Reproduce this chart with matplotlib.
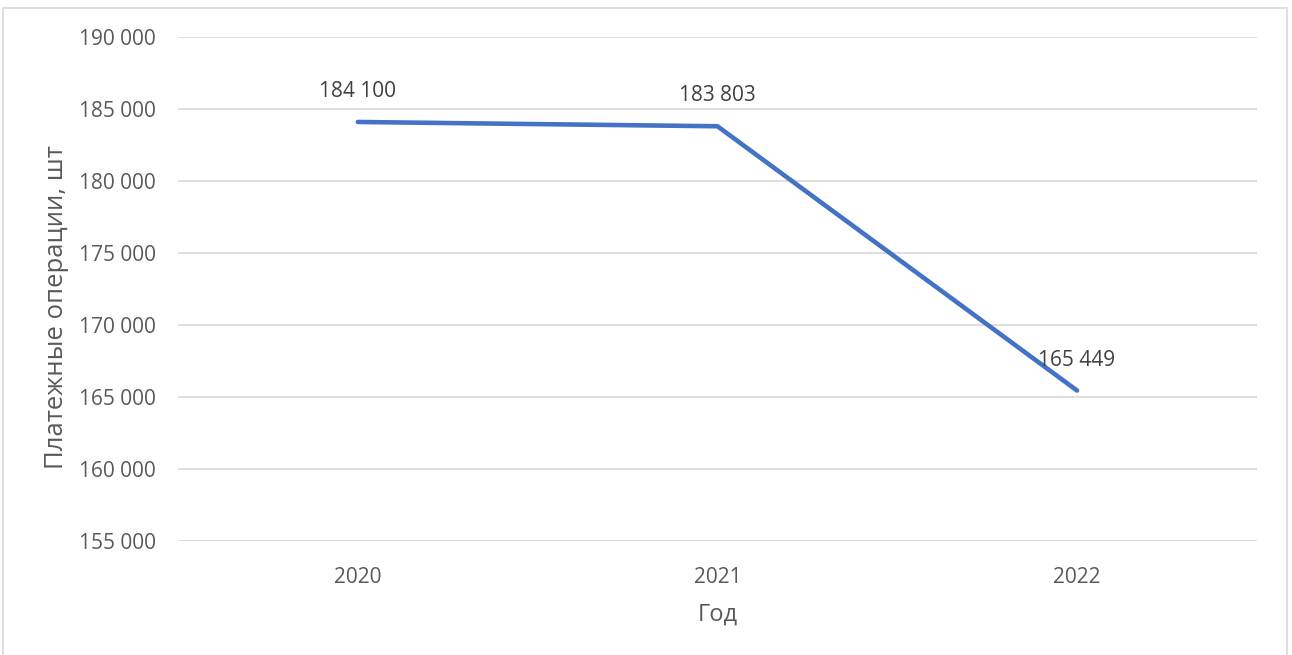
import matplotlib.pyplot as plt
from matplotlib.patches import Rectangle
from matplotlib.ticker import FuncFormatter, MultipleLocator

years = ["2020", "2021", "2022"]
payments = [184100, 183803, 165449]

LINE_COLOR = "#4472C4"
TEXT_COLOR = "#595959"
GRID_COLOR = "#D9D9D9"

plt.rcParams["font.family"] = ["Open Sans", "DejaVu Sans"]


def _fmt(value, _pos=None):
    return f"{int(round(value)):,}".replace(",", " ")


fig = plt.figure(figsize=(12.92, 6.55), dpi=100)
ax = fig.add_axes([0.1378, 0.174, 0.835, 0.7695])

x = list(range(len(years)))
ax.plot(x, payments, color=LINE_COLOR, linewidth=3.3, solid_capstyle="round")

for xi, value in zip(x, payments):
    ax.annotate(_fmt(value), (xi, value), xytext=(0, 22), textcoords="offset points",
                ha="center", va="center", fontsize=15, color="#404040")

ax.set_xlim(-0.5, len(years) - 0.5)
ax.set_ylim(155000, 190000)
ax.yaxis.set_major_locator(MultipleLocator(5000))
ax.yaxis.set_major_formatter(FuncFormatter(_fmt))
ax.set_xticks(x)
ax.set_xticklabels(years)

ax.grid(axis="y", color=GRID_COLOR, linewidth=1.2)
ax.set_axisbelow(True)
for spine in ax.spines.values():
    spine.set_visible(False)
ax.tick_params(length=0, labelsize=15, colors=TEXT_COLOR)
ax.tick_params(axis="y", pad=16)
ax.tick_params(axis="x", pad=19)

ax.set_xlabel("Год", fontsize=17, color=TEXT_COLOR, labelpad=10)
ax.set_ylabel("Платежные операции, шт", fontsize=18.5, color=TEXT_COLOR, labelpad=7)
ax.yaxis.label.set_y(0.465)

fig.patches.append(Rectangle((0.0025, -0.01), 0.9935, 0.998, transform=fig.transFigure,
                             fill=False, edgecolor=GRID_COLOR, linewidth=1.2))

fig.savefig("out.png", dpi=100)
